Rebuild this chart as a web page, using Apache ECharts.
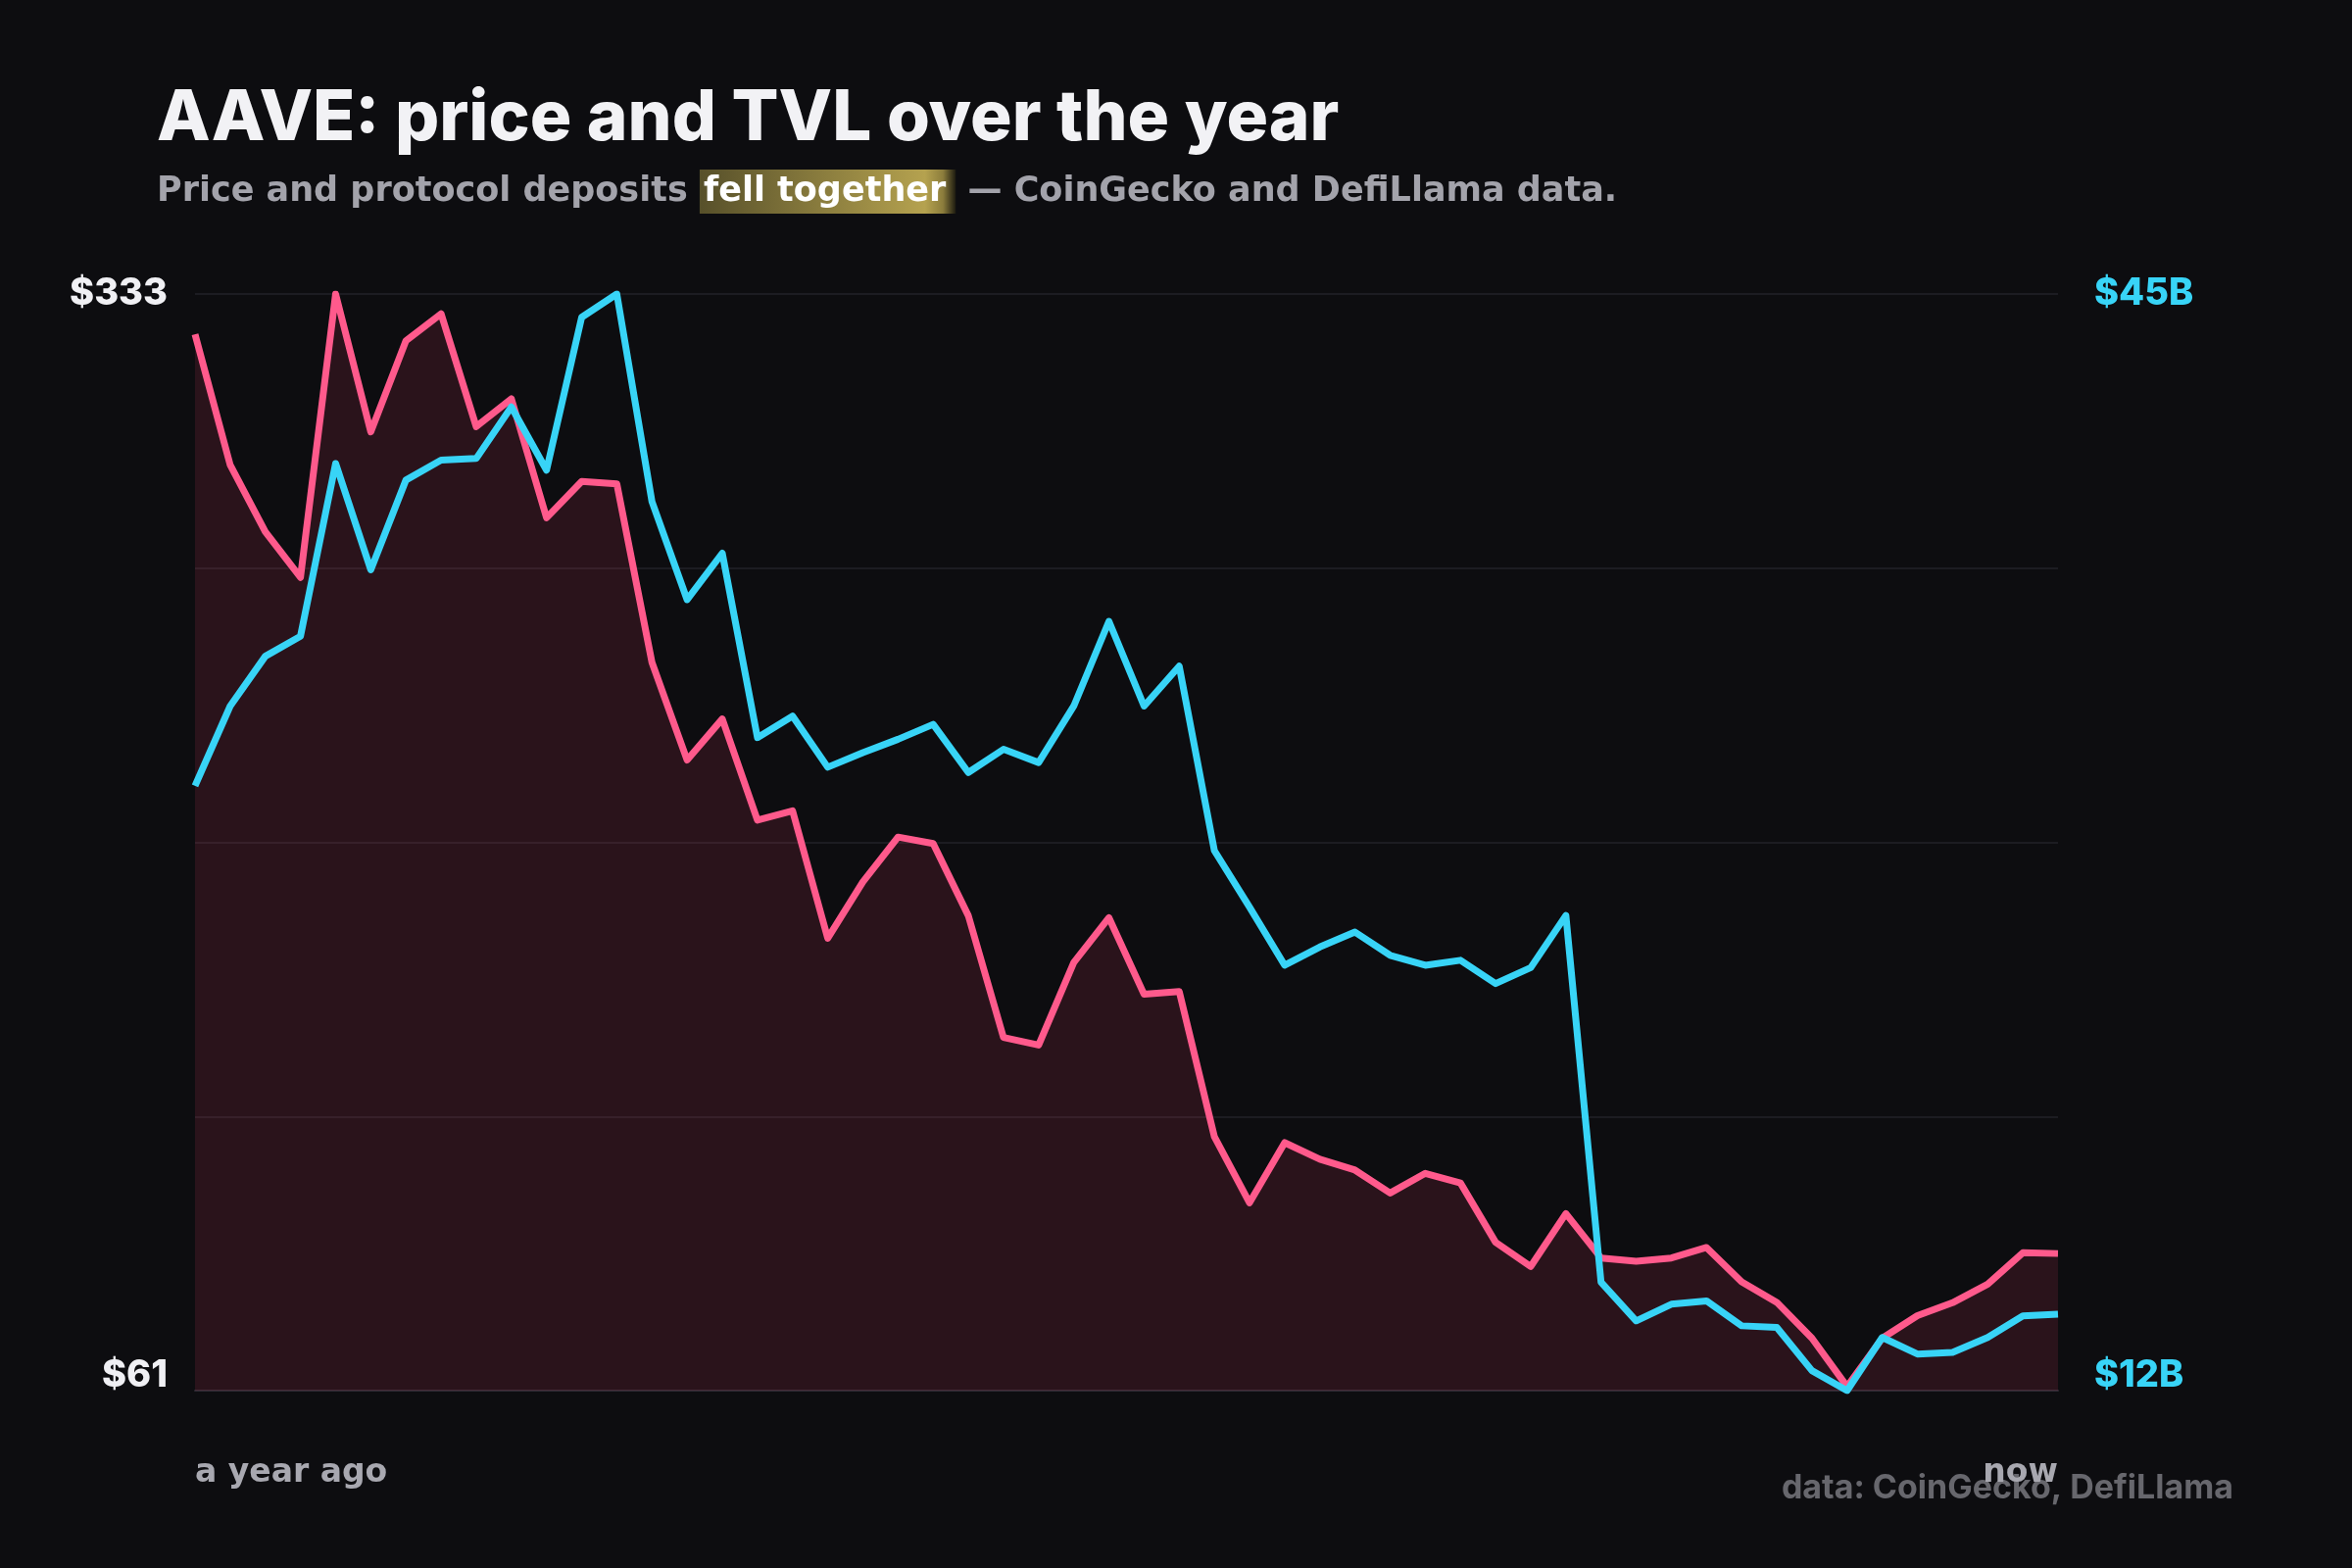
<!DOCTYPE html>
<html style="height: 100%">

<head>
	<meta charset="utf-8">
</head>

<body style="height: 100%; margin: 0; background: #0d0d10">
	<div id="container" style="width: 2400px; height: 1600px;"></div>
	<script type="text/javascript" src="https://cdn.jsdelivr.net/npm/echarts@6/dist/echarts.min.js"></script>
	<script type="text/javascript">
		// weekly points, a year ago -> now
		let weeks = [];
		for (let w = 0; w < 54; w++) {
			weeks.push(w === 0 ? 'a year ago' : (w === 53 ? 'now' : 'w' + w));
		}

		// AAVE price, USD
		let priceData = [
			323, 290.6, 274, 262.7, 333, 298.8, 321.4, 328.1, 300.1, 307,
			277.5, 286.5, 285.9, 241.6, 217.4, 227.6, 202.5, 204.8, 173.2, 187.2,
			198.3, 196.7, 178.8, 148.6, 146.7, 167.2, 178.3, 159.3, 160, 124,
			107.6, 122.5, 118.4, 115.7, 110, 114.9, 112.5, 97.8, 91.8, 104.9,
			93.9, 93.1, 93.9, 96.5, 88, 82.9, 74, 62, 74, 79.6,
			82.8, 87.4, 95.2, 95
		];

		// protocol TVL, billions USD
		let tvlData = [
			30.2, 32.6, 34.1, 34.7, 39.9, 36.7, 39.4, 40, 40.05, 41.6,
			39.7, 44.3, 45, 38.75, 35.8, 37.2, 31.65, 32.3, 30.76, 31.2,
			31.6, 32.05, 30.6, 31.3, 30.9, 32.6, 35.15, 32.6, 33.8, 28.25,
			26.55, 24.8, 25.35, 25.8, 25.1, 24.8, 24.95, 24.25, 24.73, 26.3,
			15.26, 14.1, 14.6, 14.7, 13.95, 13.9, 12.6, 12, 13.6, 13.1,
			13.15, 13.6, 14.25, 14.3
		];

		let priceTicks = [61, 333];
		let tvlTicks = [12, 45];

		const PINK = '#ff5a8c';
		const CYAN = '#38d4f7';
		const FONT = 'Inter, "Noto Sans", sans-serif';
		const WIDE = '"DejaVu Sans", Inter, sans-serif';

		let dom = document.getElementById("container");
		let myChart = echarts.init(dom, null, { renderer: 'canvas' });

		let option = {
			backgroundColor: '#0d0d10',
			animation: false,
			grid: {
				left: 199,
				right: 300,
				top: 300,
				bottom: 181,
				outerBoundsMode: 'none'
			},
			graphic: [
				{
					type: 'text',
					left: 160,
					top: 86,
					style: {
						text: 'AAVE: price and TVL over the year',
						fill: '#f2f2f5',
						font: '800 71px ' + FONT
					}
				},
				{
					type: 'text',
					left: 160,
					top: 173,
					style: {
						text: '{g|Price and protocol deposits }{h|fell together}{g| — CoinGecko and DefiLlama data.}',
						rich: {
							g: {
								fill: '#a3a3ab',
								font: 'bold 35px ' + WIDE
							},
							h: {
								fill: '#ffffff',
								font: 'bold 35px ' + WIDE,
								padding: [5, 10, 5, 4],
								backgroundColor: new echarts.graphic.LinearGradient(0, 0, 1, 0, [
									{ offset: 0, color: '#57502a' },
									{ offset: 0.88, color: '#b5a24f' },
									{ offset: 0.95, color: '#8c7d3c' },
									{ offset: 1, color: '#1c1a10' }
								])
							}
						}
					}
				},
				{
					type: 'text',
					right: 121,
					top: 1502,
					style: {
						text: 'data: CoinGecko, DefiLlama',
						fill: '#67676d',
						font: '700 34px ' + FONT
					}
				}
			],
			xAxis: {
				type: 'category',
				data: weeks,
				boundaryGap: false,
				axisLine: { lineStyle: { color: '#2d2a33', width: 2 } },
				axisTick: { show: false },
				splitLine: { show: false },
				axisLabel: {
					interval: function (index) {
						return index === 0 || index === weeks.length - 1;
					},
					margin: 68,
					color: '#a8a8b0',
					fontFamily: WIDE,
					fontWeight: 'bold',
					fontSize: 33,
					alignMinLabel: 'left',
					alignMaxLabel: 'right'
				}
			},
			yAxis: [
				{
					type: 'value',
					min: priceTicks[0],
					max: priceTicks[1],
					position: 'left',
					axisLine: { show: false },
					axisTick: { show: false },
					splitLine: { show: false },
					axisLabel: {
						margin: 28,
						color: '#f0f0f4',
						fontFamily: FONT,
						fontWeight: 800,
						fontSize: 38,
						lineHeight: 30,
						padding: [12, 0, 0, 0],
						verticalAlignMinLabel: 'bottom',
						formatter: function (v) {
							return priceTicks.indexOf(v) >= 0 ? '$' + v : '';
						}
					}
				},
				{
					type: 'value',
					min: tvlTicks[0],
					max: tvlTicks[1],
					position: 'right',
					axisLine: { show: false },
					axisTick: { show: false },
					splitLine: { show: false },
					axisLabel: {
						margin: 37,
						color: CYAN,
						fontFamily: FONT,
						fontWeight: 800,
						fontSize: 38,
						lineHeight: 30,
						padding: [12, 0, 0, 0],
						verticalAlignMinLabel: 'bottom',
						formatter: function (v) {
							return tvlTicks.indexOf(v) >= 0 ? '$' + v + 'B' : '';
						}
					}
				},
				{
					// grid lines only
					type: 'value',
					min: 0,
					max: 4,
					interval: 1,
					show: true,
					axisLine: { show: false },
					axisTick: { show: false },
					axisLabel: { show: false },
					splitLine: { lineStyle: { color: '#222228', width: 1.5 } }
				}
			],
			series: [
				{
					name: 'Price',
					type: 'line',
					yAxisIndex: 0,
					data: priceData,
					symbol: 'none',
					z: 3,
					lineStyle: { color: PINK, width: 7, join: 'round' },
					areaStyle: { color: 'rgba(180, 52, 78, 0.25)', origin: 'start' }
				},
				{
					name: 'TVL',
					type: 'line',
					yAxisIndex: 1,
					data: tvlData,
					symbol: 'none',
					z: 4,
					lineStyle: { color: CYAN, width: 7, join: 'round' }
				}
			]
		};

		myChart.setOption(option);
	</script>
</body>
</html>
